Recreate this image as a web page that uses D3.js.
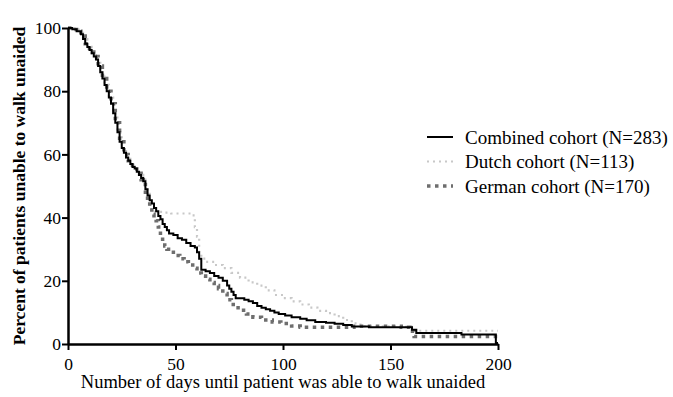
<!DOCTYPE html>
<html>
<head>
<meta charset="utf-8">
<script src="https://cdn.jsdelivr.net/npm/d3@7"></script>
<style>
  body { margin: 0; background: #fff; }
</style>
</head>
<body>
<div id="chart"></div>
<script>
// ---- data (day, percent still unable to walk)
var combinedDays = [0, 2, 4, 6, 7, 8, 9, 10, 11, 12, 13, 14, 15, 16, 17, 18, 19, 20, 21, 22, 23, 24, 25, 26, 27, 28, 29, 30, 31, 32, 33, 34, 35, 36, 37, 38, 39, 40, 41, 42, 43, 44, 45, 46, 47, 49, 51, 53, 55, 57, 59, 60, 61, 62, 64, 66, 68, 70, 72, 74, 75, 76, 77, 78, 82, 84, 86, 88, 90, 92, 94, 96, 98, 101, 104, 108, 111, 115, 120, 124, 128, 132, 140, 160, 162, 183, 199, 200];
var combinedPct = [100, 99.6, 99, 98, 96.5, 95, 94, 93, 92, 91, 90, 88, 86, 84, 82, 80, 78, 76, 73, 70, 67, 64, 62, 60.5, 59, 58, 57, 56, 55.5, 54.5, 53.5, 52.5, 51.5, 49, 47, 45.5, 44.5, 43, 42, 40.5, 39.5, 38, 37, 36, 35, 34.5, 33.5, 33, 32, 31, 30.5, 29, 27, 23.5, 23, 22.5, 21.5, 21, 20, 18.5, 17.5, 16.5, 15.5, 14.5, 14, 13.5, 13, 12, 11.5, 11, 10.5, 10, 9.5, 9, 8.5, 8, 7.5, 7, 6.7, 6.4, 6, 5.5, 5.3, 4.5, 3.5, 3, 0.3, 0.3];

var dutchDays = [0, 3, 5, 7, 9, 11, 13, 15, 17, 19, 21, 23, 25, 27, 29, 31, 33, 35, 36, 37, 38, 39, 40, 44, 48, 57, 59, 60, 61, 62, 64, 68, 72, 76, 80, 84, 88, 92, 96, 100, 104, 108, 112, 116, 120, 124, 128, 132, 136, 156, 161, 200];
var dutchPct = [100, 99.5, 98.5, 96.5, 94, 92, 90, 86, 82, 78, 73, 67, 62, 59, 57, 55, 53.5, 52, 50, 47.5, 44, 42.5, 41.8, 41.6, 41.3, 40.7, 37, 34, 29, 27, 26, 25, 24, 22.5, 21, 19.5, 18.5, 17, 15.5, 14.5, 13.5, 12.5, 11.5, 10.5, 9.8, 8.8, 7.6, 6.5, 5.6, 5.4, 4.2, 4.2];

var germanDays = [0, 2, 4, 6, 8, 10, 12, 14, 16, 18, 20, 22, 24, 26, 28, 30, 32, 34, 35, 36, 37, 38, 39, 40, 41, 42, 43, 44, 45, 46, 48, 50, 52, 54, 56, 58, 60, 62, 64, 66, 68, 70, 72, 74, 76, 78, 80, 83, 86, 90, 95, 99, 104, 108, 130, 133, 155, 159, 161, 200];
var germanPct = [100, 99.5, 99, 97.5, 95, 93, 91, 88, 84, 80, 76, 70, 64, 60, 58, 56, 54, 52, 50.5, 47, 45, 43, 41, 40, 39, 37, 34, 32, 31, 30, 29, 28, 27, 26, 25, 24, 22.5, 21.5, 20.5, 19.5, 18.5, 17.5, 16, 14, 12.5, 11.5, 10.7, 9.5, 8.5, 7.6, 7, 6.5, 5.7, 5.3, 5.3, 5.6, 5.3, 4, 2.4, 2.4];

var xTicks = [0, 50, 100, 150, 200];
var yTicks = [0, 20, 40, 60, 80, 100];
var seriesNames = ["Combined cohort (N=283)", "Dutch cohort (N=113)", "German cohort (N=170)"];

var FONT = "Liberation Serif";

//----- dimensions
var width = 673, height = 397;
var margin = { top: 28, right: 175, bottom: 53, left: 68 };
var w = width - margin.left - margin.right;
var h = height - margin.top - margin.bottom;

var svg = d3.select("#chart").append("svg")
  .attr("width", width)
  .attr("height", height);

var g = svg.append("g")
  .attr("transform", `translate(${margin.left},${margin.top})`);

var xScale = d3.scaleLinear().domain([0, 200]).range([0, w]);
var yScale = d3.scaleLinear().domain([0, 100]).range([h, 0]);

// styles for each series
var styles = [
  { color: "#000000", width: 2, dash: null },
  { color: "#c8c8c8", width: 2.2, dash: "2,4" },
  { color: "#6e6e6e", width: 3.5, dash: "3.5,4.5" }
];

var series = [
  d3.zip(combinedDays, combinedPct),
  d3.zip(dutchDays, dutchPct),
  d3.zip(germanDays, germanPct)
];

var line = d3.line()
  .x(d => xScale(d[0]))
  .y(d => yScale(d[1]))
  .curve(d3.curveStepAfter);

// draw light ones first so combined sits on top
[1, 2, 0].forEach(i => {
  g.append("path")
    .datum(series[i])
    .attr("fill", "none")
    .attr("stroke", styles[i].color)
    .attr("stroke-width", styles[i].width)
    .attr("stroke-dasharray", styles[i].dash)
    .attr("d", line);
});

//--- axes
var xAxis = d3.axisBottom(xScale).tickValues(xTicks).tickSize(6).tickSizeOuter(0);
var yAxis = d3.axisLeft(yScale).tickValues(yTicks).tickSize(6).tickSizeOuter(0);

var gx = g.append("g")
  .attr("transform", `translate(0,${h})`)
  .call(xAxis);
gx.select(".domain").attr("stroke-width", 2.5);
gx.selectAll(".tick line").attr("stroke-width", 2);
gx.selectAll("text")
  .attr("font-size", 17.5)
  .attr("dy", "0.95em");

var gy = g.append("g").call(yAxis);
gy.select(".domain").attr("stroke-width", 2.5);
gy.selectAll(".tick line").attr("stroke-width", 2);
gy.selectAll("text")
  .attr("font-size", 17.5)
  .attr("x", -7);

//--- axis titles
svg.append("text")
  .attr("x", margin.left + w / 2)
  .attr("y", 388)
  .attr("text-anchor", "middle")
  .attr("font-size", 18.5)
  .text("Number of days until patient was able to walk unaided");

svg.append("text")
  .attr("transform", `translate(25,${margin.top + h / 2}) rotate(-90)`)
  .attr("text-anchor", "middle")
  .attr("font-size", 17.5)
  .attr("font-weight", "bold")
  .text("Percent of patients unable to walk unaided");

//--- legend
var legend = svg.append("g").attr("transform", "translate(427,137)");
seriesNames.forEach((name, i) => {
  var row = legend.append("g").attr("transform", `translate(0,${i * 24.5})`);
  row.append("line")
    .attr("x1", 0).attr("x2", 26)
    .attr("stroke", styles[i].color)
    .attr("stroke-width", styles[i].width)
    .attr("stroke-dasharray", styles[i].dash);
  row.append("text")
    .attr("x", 38)
    .attr("dy", "0.35em")
    .attr("font-size", 19)
    .text(name);
});

// set the font on every text directly
svg.selectAll("text")
  .attr("font-family", FONT)
  .style("font-family", FONT)
  .attr("fill", "#000");
</script>
</body>
</html>
